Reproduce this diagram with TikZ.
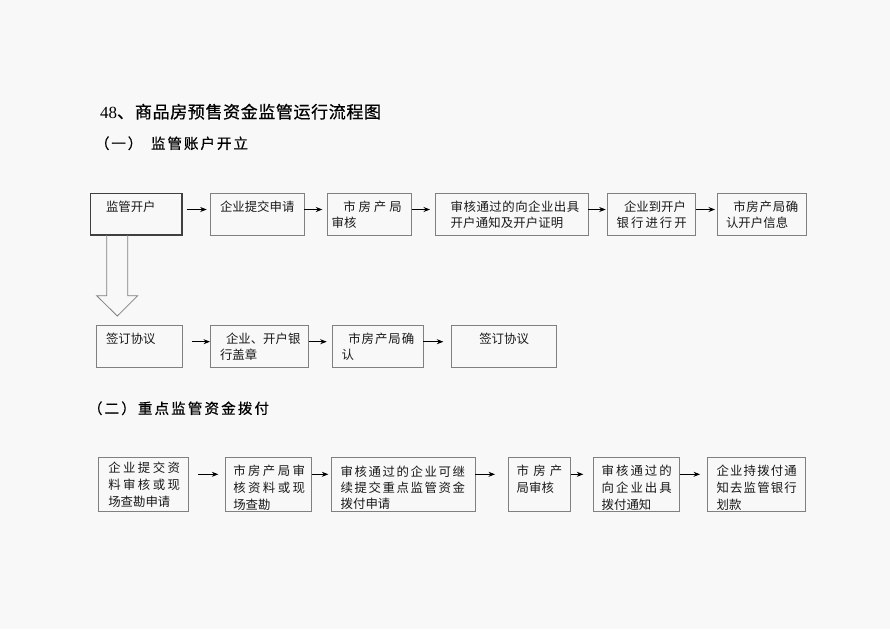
\documentclass[tikz,border=0pt]{standalone}
\usepackage{fontspec}
\setmainfont{Liberation Serif}
\newfontfamily\cjk{Noto Sans CJK SC}
\newfontfamily\cjkh[FakeBold=0.6]{Noto Sans CJK SC}
\usetikzlibrary{arrows.meta,calc}
\definecolor{bgc}{HTML}{F8F8F8}
\definecolor{bdc}{HTML}{808080}
\definecolor{bdk}{HTML}{404040}
\def\spreadchars#1{\sprA#1\relax}
\def\sprA#1#2{#1\ifx#2\relax\else\hfill\expandafter\sprA\expandafter#2\fi}
\newcommand\jl[2]{\hbox to #1pt{\spreadchars{#2}}}
\newcommand\mtxt[2]{\vtop{\baselineskip=#1pt\lineskiplimit=-20pt\lineskip=0pt #2}}
\newcommand\mkbox[6][box]{\node[#1,minimum width={#5-#3},minimum height={#6-#4}] (#2) at (#3,#4) {};}
\tikzset{
  box/.style={draw=bdc,line width=0.8pt,inner sep=0pt,outer sep=0pt,anchor=north west},
  keybox/.style={box,draw=bdk,line width=1.1pt},
  txt/.style={inner sep=0pt,outer sep=0pt,anchor=base west,text=black!90,font=\cjk\fontsize{12.4}{15}\selectfont},
  headA/.style={inner sep=0pt,outer sep=0pt,anchor=base west,font=\cjkh\fontsize{17}{20}\selectfont},
  headB/.style={inner sep=0pt,outer sep=0pt,anchor=base west,font=\cjkh\fontsize{14.5}{18}\selectfont},
  arr/.style={draw=black,line width=0.8pt,-{Stealth[length=6.5pt,width=5pt]}},
  hollow/.style={draw=bdc,line width=0.8pt}
}
\begin{document}
\begin{tikzpicture}[x=1pt,y=-1pt]
\fill[bgc] (0,0) rectangle (890,629);
\useasboundingbox (0,0) rectangle (890,629);
% headings
\node[headA] (h1) at (100,118.2) {\hbox to 281pt{{\rmfamily 48}、\hskip1pt\spreadchars{商品房预售资金监管运行流程图}}};
\node[headB] (h2) at (95,148.8) {\hbox{\hbox to 47.3pt{\spreadchars{（一）}}\hskip8.7pt\hbox to 97pt{\spreadchars{监管账户开立}}}};
\node[headB] (h3) at (88,413.8) {\hbox to 181pt{\spreadchars{（二）重点监管资金拨付}}};
% row 1
\mkbox[keybox]{b1}{90.5}{193.3}{182}{235}
\mkbox{b2}{210.3}{193.3}{304.3}{235}
\mkbox{b3}{327.3}{193.3}{411.7}{235}
\mkbox{b4}{435.7}{193.3}{588.3}{235}
\mkbox{b5}{607.7}{193.3}{695.7}{235}
\mkbox{b6}{717.3}{193.3}{806.7}{235}
\node[txt] (t1) at (106,211.2) {监管开户};
\node[txt] (t2) at (220,211.2) {企业提交申请};
\node[txt] (t3) at (331.7,211.2) {\mtxt{16.5}{\hbox{\hskip11.6pt\jl{58.4}{市房产局}}\hbox{审核}}};
\node[txt] (t4) at (450.7,211.2) {\mtxt{16.5}{\jl{128.6}{审核通过的向企业出具}\jl{112.6}{开户通知及开户证明}}};
\node[txt] (t5) at (616.7,211.2) {\mtxt{16.5}{\hbox{\hskip7.3pt 企业到开户}\jl{70}{银行进行开}}};
\node[txt] (t6) at (726,211.2) {\mtxt{16.5}{\hbox{\hskip7.3pt\jl{65}{市房产局确}}\jl{62.3}{认开户信息}}};
\draw[arr] ([xshift=4.7pt,yshift=4.65pt]b1.east) -- ([xshift=-3.6pt,yshift=4.65pt]b2.west);
\draw[arr] ([yshift=4.65pt]b2.east) -- ([xshift=-5pt,yshift=4.65pt]b3.west);
\draw[arr] ([yshift=4.65pt]b3.east) -- ([xshift=-5.7pt,yshift=4.65pt]b4.west);
\draw[arr] ([yshift=4.65pt]b4.east) -- ([xshift=-2pt,yshift=4.65pt]b5.west);
\draw[arr] ([yshift=4.65pt]b5.east) -- ([xshift=-2.3pt,yshift=4.65pt]b6.west);
% hollow block arrow b1 -> c1
\draw[hollow] ($(b1.south west)+(16.2,0)$) -- ($(b1.south west)+(16.2,60.7)$)
  -- ($(b1.south west)+(6.2,60.7)$) -- ($(b1.south west)+(26.8,81)$)
  -- ($(b1.south west)+(47.2,60.7)$) -- ($(b1.south west)+(37.2,60.7)$)
  -- ($(b1.south west)+(37.2,0)$);
% row 2
\mkbox{c1}{96.7}{325.7}{182}{367}
\mkbox{c2}{210.3}{325.7}{308.7}{367}
\mkbox{c3}{332.3}{325.7}{423.3}{367}
\mkbox{c4}{451.3}{325.7}{556.7}{367}
\node[txt] (t7) at (106,343) {签订协议};
\node[txt] (t8) at (220,343) {\mtxt{16}{\hbox{\hskip6pt 企业、开户银}\hbox{行盖章}}};
\node[txt] (t9) at (341.7,343) {\mtxt{16}{\hbox{\hskip6.6pt\jl{66}{市房产局确}}\hbox{认}}};
\node[txt] (t10) at (479.3,343) {签订协议};
\draw[arr] ([xshift=9.7pt,yshift=4.65pt]c1.east) -- ([xshift=-0.3pt,yshift=4.65pt]c2.west);
\draw[arr] ([yshift=4.65pt]c2.east) -- ([xshift=-5.6pt,yshift=4.65pt]c3.west);
\draw[arr] ([yshift=4.65pt]c3.east) -- ([xshift=-8pt,yshift=4.65pt]c4.west);
% row 3
\mkbox{d1}{98.3}{457.3}{188.7}{511.7}
\mkbox{d2}{225}{457.3}{311.7}{511.7}
\mkbox{d3}{331.7}{457.3}{475}{511.7}
\mkbox{d4}{508.3}{457.3}{570.7}{511.7}
\mkbox{d5}{593.3}{457.3}{679.3}{511.7}
\mkbox{d6}{707.3}{457.3}{805}{511.7}
\node[txt] (t11) at (108.3,472) {\mtxt{17.3}{\jl{71.7}{企业提交资}\jl{71.7}{料审核或现}\hbox{场查勘申请}}};
\node[txt] (t12) at (233.3,475.4) {\mtxt{16.8}{\jl{71.7}{市房产局审}\jl{71.7}{核资料或现}\hbox{场查勘}}};
\node[txt] (t13) at (340.7,476) {\mtxt{16.3}{\jl{124.3}{审核通过的企业可继}\jl{124.3}{续提交重点监管资金}\hbox{拨付申请}}};
\node[txt] (t14) at (516.7,475.4) {\mtxt{16.8}{\jl{45.6}{市房产}\hbox{局审核}}};
\node[txt] (t15) at (601.7,475.4) {\mtxt{16.8}{\jl{70}{审核通过的}\jl{70}{向企业出具}\hbox{拨付通知}}};
\node[txt] (t16) at (716.7,475.4) {\mtxt{16.8}{\jl{80}{企业持拨付通}\jl{80}{知去监管银行}\hbox{划款}}};
\draw[arr] ([xshift=9.6pt,yshift=10.2pt]d1.east) -- ([xshift=-6.7pt,yshift=10.2pt]d2.west);
\draw[arr] ([yshift=10.2pt]d2.east) -- ([xshift=-3.4pt,yshift=10.2pt]d3.west);
\draw[arr] ([yshift=10.2pt]d3.east) -- ([xshift=-13.3pt,yshift=10.2pt]d4.west);
\draw[arr] ([yshift=10.2pt]d4.east) -- ([xshift=-10pt,yshift=10.2pt]d5.west);
\draw[arr] ([xshift=0.7pt,yshift=10.2pt]d5.east) -- ([xshift=-7.3pt,yshift=10.2pt]d6.west);
\end{tikzpicture}
\end{document}
